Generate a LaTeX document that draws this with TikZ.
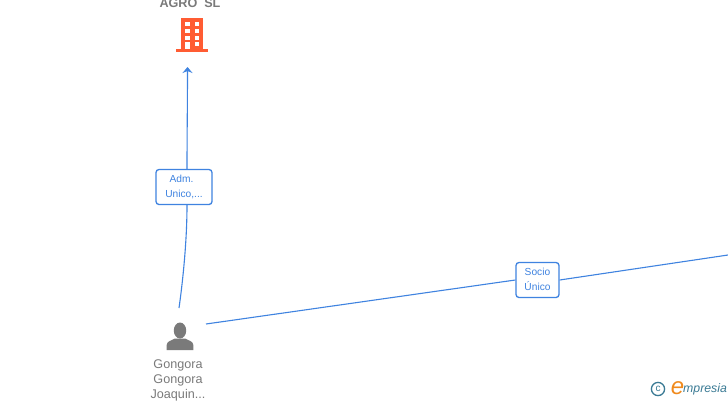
\documentclass[tikz,border=0pt]{standalone}
\usepackage{fontspec}
\usetikzlibrary{arrows.meta}
\setmainfont{Liberation Sans}
\definecolor{linkblue}{HTML}{3F83E0}
\definecolor{textgray}{HTML}{7A7A7A}
\definecolor{iconorange}{HTML}{FF5C33}
\definecolor{logoteal}{HTML}{3A7A94}
\definecolor{logoorange}{HTML}{F08A1D}
\tikzset{
  linkline/.style={draw=linkblue,line width=1.1pt},
  linkbox/.style={draw=linkblue,line width=1.3pt,rounded corners=3pt,fill=white,align=center,
    text=linkblue,font=\fontsize{10.2}{14.5}\selectfont,inner sep=0pt,text depth=1pt},
  personname/.style={text=textgray,align=center,font=\fontsize{12.6}{15}\selectfont,inner sep=0pt}
}
\begin{document}
\begin{tikzpicture}[x=1pt,y=-1pt]
      \clip (0,0) rectangle (728,400);
      \fill[white] (0,0) rectangle (728,400);

      % Company
      \node[text=textgray,inner sep=0pt,font=\bfseries\fontsize{12.6}{14}\selectfont] (agrotext) at (190,3) {AGRO\ \ SL};
      \coordinate (agro) at (187.5,67);
      \fill[iconorange] (181,18) rectangle (203,49);
      \fill[iconorange] (176,49) rectangle (208,51.5);
      \foreach \wx in {185,194.6}
        \foreach \wy in {22.3,29,35.7}
          \fill[white] (\wx,\wy) rectangle +(4.6,3.8);
      \fill[white] (185,42.3) rectangle (189.6,49);
      \fill[white] (194.6,42.3) rectangle (199.2,46.1);

      % Person
      \coordinate (personup) at (179,308);
      \coordinate (personright) at (206,324);
      \fill[textgray] (180,330.5) ellipse (6.2 and 8);
      \fill[textgray] (166.7,350) -- (166.7,345) .. controls (166.7,341.5) and (171,340.5) .. (175,338.5)
        -- (185,338.5) .. controls (189,340.5) and (193.3,341.5) .. (193.3,345) -- (193.3,350) -- cycle;
      \node[personname] (person) at (178,380) {Gongora\\Gongora\\Joaquin...};

      % Labels
      \node[linkbox,minimum width=56pt,minimum height=35pt] (adm) at (184,187) {Adm.\hspace*{5pt}\\Unico,...};
      \node[linkbox,minimum width=43pt,minimum height=35pt] (socio) at (537.5,280) {Socio\\Único};
      \coordinate (offpage) at (728,255);

      % Connectors
      \draw[linkline] (personup) .. controls (183,280) and (187,240) .. ([xshift=3pt]adm.south);
      \draw[linkline,-{Stealth[length=6pt,width=10pt,inset=2pt]}] ([xshift=3pt]adm.north) .. controls (187,140) and (187.5,100) .. (agro);
      \draw[linkline] (personright) -- (socio.west);
      \draw[linkline] (socio.east) -- (offpage);

      % Logo
      \draw[logoteal,line width=1.3pt] (658,389) circle (6.6);
      \node[text=logoteal,inner sep=0pt,font=\fontsize{10}{10}\selectfont] (logoc) at (658,388.7) {c};
      \node[text=logoorange,inner sep=0pt,font=\itshape\fontsize{24}{24}\selectfont] (logoe) at (677.5,388) {e};
      \node[text=logoteal,inner sep=0pt,anchor=west,font=\itshape\fontsize{12.3}{14}\selectfont] (logotext) at (683,389.5) {mpresia};
\end{tikzpicture}
\end{document}
